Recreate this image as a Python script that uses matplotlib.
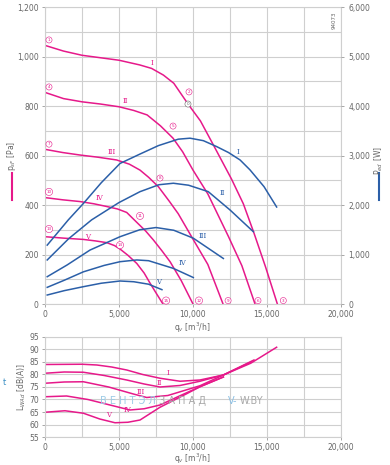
import matplotlib
matplotlib.use('Agg')
import matplotlib.pyplot as plt
from matplotlib.ticker import FuncFormatter, MultipleLocator

# pressure curves p_sF [Pa] vs q_v [m3/h]
q_p1 = [0, 1250, 2500, 3750, 5000, 6400, 7200, 8000, 8700, 9700, 10500, 11400, 12600, 13400, 14100, 14900, 15700]
p1 = [1045, 1022, 1005, 995, 985, 966, 952, 925, 892, 805, 740, 640, 505, 405, 290, 150, 0]
q_p2 = [0, 1250, 2500, 3750, 5000, 6000, 6900, 7800, 8650, 9300, 10000, 11000, 12400, 13300, 14190]
p2 = [855, 830, 817, 808, 797, 782, 764, 720, 670, 615, 541, 445, 272, 155, 0]
q_p3 = [0, 1200, 2365, 3600, 4840, 5700, 6420, 7000, 7660, 8400, 9000, 10000, 11000, 12030]
p3 = [625, 612, 602, 593, 582, 565, 541, 512, 474, 415, 365, 262, 160, 0]
q_p4 = [0, 1200, 2365, 3300, 4170, 4900, 5520, 6200, 6800, 7320, 7900, 8450, 9200, 10000]
p4 = [430, 421, 414, 405, 394, 384, 370, 330, 295, 259, 215, 171, 95, 0]
q_p5 = [0, 1300, 2590, 3400, 4170, 4700, 5070, 5600, 6200, 6700, 7100, 7500, 7970]
p5 = [272, 266, 261, 255, 248, 236, 222, 197, 164, 125, 84, 45, 0]

# power curves P_ed [W]
q_w1 = [150, 1575, 2590, 3800, 5070, 6420, 7660, 9000, 9800, 10700, 11600, 12400, 13180, 13850, 14800, 15650]
w1 = [1190, 1700, 2030, 2450, 2840, 3030, 3200, 3330, 3350, 3300, 3180, 3060, 2910, 2710, 2370, 1960]
q_w2 = [150, 1600, 3150, 5000, 6420, 7700, 8670, 9700, 11030, 12500, 14080]
w2 = [890, 1320, 1700, 2050, 2270, 2410, 2440, 2400, 2270, 1900, 1460]
q_w3 = [150, 1500, 3040, 5070, 6400, 7500, 8700, 10020, 12050]
w3 = [552, 790, 1090, 1360, 1500, 1545, 1490, 1330, 920]
q_w4 = [150, 1300, 2590, 4000, 5070, 6200, 7000, 8670, 10020]
w4 = [337, 480, 650, 780, 855, 890, 875, 720, 535]
q_w5 = [150, 1300, 2590, 3800, 5070, 6000, 7000, 7900]
w5 = [182, 270, 350, 420, 465, 450, 400, 290]

# sound power L_WAd [dB(A)]
q_s1 = [0, 2500, 3500, 4500, 5520, 6600, 7770, 9120, 10470, 12050, 13900, 15650]
s1 = [84, 84.1, 83.8, 83.0, 81.8, 80.0, 78.5, 77.3, 77.8, 79.8, 84.5, 90.9]
q_s2 = [0, 1300, 2590, 4000, 5520, 6700, 7770, 9120, 10470, 12050, 14120]
s2 = [80.5, 81.0, 80.9, 79.6, 77.8, 76.2, 75.0, 75.6, 77.3, 79.8, 85.8]
q_s3 = [0, 1300, 2590, 4300, 5970, 6870, 8300, 10470, 12050, 13960]
s3 = [76.5, 77.0, 77.1, 75.0, 72.2, 70.8, 71.6, 75.5, 79.8, 85.1]
q_s4 = [0, 1460, 2900, 4390, 5740, 6700, 7770, 9120, 10470, 12050]
s4 = [71.1, 71.4, 70.0, 67.8, 65.8, 66.3, 67.8, 71.5, 75.1, 79.0]
q_s5 = [0, 1350, 2600, 3700, 4730, 5600, 6420, 7770, 9570, 10470, 12050]
s5 = [64.9, 65.5, 64.5, 62.2, 60.7, 60.9, 61.8, 66.9, 72.3, 75.1, 79.0]

roman = ['I', 'II', 'III', 'IV', 'V']
# roman label positions
lab_p = [(7230, 974), (5400, 820), (4530, 614), (3650, 428), (2900, 270)]
lab_w = [(13040, 3070), (11960, 2240), (10680, 1370), (9320, 830), (7700, 444)]
lab_s = [(8300, 80.5), (7750, 76.5), (6500, 73.0), (5550, 66.0), (4300, 64.0)]

# numbered operating points
pt_num = ['1', '2', '3', '4', '5', '6', '7', '8', '9', '10', '11', '12', '13', '14', '15']
pt_q = [270, 9730, 16100, 270, 8650, 14390, 270, 7770, 12370, 270, 6420, 10400, 270, 5070, 8180]
pt_p = [1067, 857, 14, 877, 719, 14, 646, 509, 14, 453, 356, 14, 303, 238, 14]

MAG = '#e6198a'
BLUE = '#2b5fa8'
GRID = '#cfcfcf'
TXT = '#666666'

thousands = FuncFormatter(lambda v, p: '{:,.0f}'.format(v))

fig = plt.figure(figsize=(3.9, 4.65), dpi=100)

ax = fig.add_axes([0.1154, 0.3462, 0.7590, 0.6387])
ax.set_xlim(0, 20000)
ax.set_ylim(0, 1200)
ax.xaxis.set_major_locator(MultipleLocator(5000))
ax.xaxis.set_minor_locator(MultipleLocator(2500))
ax.yaxis.set_major_locator(MultipleLocator(200))
ax.yaxis.set_minor_locator(MultipleLocator(100))
ax.xaxis.set_major_formatter(thousands)
ax.yaxis.set_major_formatter(thousands)
ax.grid(True, which='both', color=GRID, lw=0.8)
ax.set_axisbelow(True)
for s in ax.spines.values():
    s.set_color(GRID)
    s.set_linewidth(0.8)
ax.tick_params(which='major', labelsize=5.5, labelcolor=TXT, color='#999999', length=2.5, width=0.6, pad=2)
ax.tick_params(which='minor', length=0)

ax2 = ax.twinx()
ax2.set_ylim(0, 6000)
ax2.yaxis.set_major_locator(MultipleLocator(1000))
ax2.yaxis.set_major_formatter(thousands)
for s in ax2.spines.values():
    s.set_visible(False)
ax2.tick_params(labelsize=5.5, labelcolor=TXT, color='#999999', length=2.5, width=0.6, pad=3)

for qq, pp in [(q_p1, p1), (q_p2, p2), (q_p3, p3), (q_p4, p4), (q_p5, p5)]:
    ax.plot(qq, pp, color=MAG, lw=1.1)
for qq, ww in [(q_w1, w1), (q_w2, w2), (q_w3, w3), (q_w4, w4), (q_w5, w5)]:
    ax2.plot(qq, ww, color=BLUE, lw=1.1)

for r, (x, y) in zip(roman, lab_p):
    ax.text(x, y, r, color=MAG, fontsize=5, ha='center', va='center', fontfamily='DejaVu Serif')
for r, (x, y) in zip(roman, lab_w):
    ax2.text(x, y, r, color=BLUE, fontsize=5, ha='center', va='center', fontfamily='DejaVu Serif')

for n, x, y in zip(pt_num, pt_q, pt_p):
    ax.text(x, y, n, color=MAG, fontsize=3, ha='center', va='center',
            bbox=dict(boxstyle='circle,pad=0.25', fc='white', ec=MAG, lw=0.4))
ax.text(9660, 808, '0', color='#666666', fontsize=3, ha='center', va='center',
        bbox=dict(boxstyle='circle,pad=0.25', fc='white', ec='#666666', lw=0.4))

ax.text(0.985, 0.985, '94073', transform=ax.transAxes, rotation=90, fontsize=4,
        color=TXT, ha='right', va='top')

fig.text(0.493, 0.295, 'q$_v$ [m$^3$/h]', fontsize=5.5, color=TXT, ha='center', va='center')
fig.text(0.030, 0.665, 'p$_{sF}$ [Pa]', rotation=90, fontsize=5.5, color=TXT, ha='center', va='center')
fig.add_artist(plt.Line2D([0.0315, 0.0315], [0.570, 0.628], color=MAG, lw=1.5))
fig.text(0.970, 0.655, 'P$_{ed}$ [W]', rotation=90, fontsize=5.5, color=TXT, ha='center', va='center')
fig.add_artist(plt.Line2D([0.9715, 0.9715], [0.570, 0.628], color=BLUE, lw=1.5))

# sound chart
bx = fig.add_axes([0.1154, 0.0602, 0.7590, 0.2151])
bx.set_xlim(0, 20000)
bx.set_ylim(55, 95)
bx.xaxis.set_major_locator(MultipleLocator(5000))
bx.xaxis.set_minor_locator(MultipleLocator(2500))
bx.yaxis.set_major_locator(MultipleLocator(5))
bx.xaxis.set_major_formatter(thousands)
bx.grid(True, which='both', color=GRID, lw=0.8)
bx.set_axisbelow(True)
for s in bx.spines.values():
    s.set_color(GRID)
    s.set_linewidth(0.8)
bx.tick_params(which='major', labelsize=5.5, labelcolor=TXT, color='#999999', length=2.5, width=0.6, pad=1.5)
bx.tick_params(which='minor', length=0)

for qq, ss in [(q_s1, s1), (q_s2, s2), (q_s3, s3), (q_s4, s4), (q_s5, s5)]:
    bx.plot(qq, ss, color=MAG, lw=1.1)
for r, (x, y) in zip(roman, lab_s):
    bx.text(x, y, r, color=MAG, fontsize=5, ha='center', va='center', fontfamily='DejaVu Serif')

fig.text(0.493, 0.014, 'q$_v$ [m$^3$/h]', fontsize=5.5, color=TXT, ha='center', va='center')
fig.text(0.055, 0.168, 'L$_{WAd}$ [dB(A)]', rotation=90, fontsize=5.5, color=TXT, ha='center', va='center')
fig.text(0.012, 0.178, 't', fontsize=6, color='#3a8fc4', ha='center', va='center')

# watermark
fig.text(0.257, 0.138, 'В Е Н Т Э Л', fontsize=7, color='#9ccbe6', ha='left', va='center')
fig.text(0.408, 0.138, 'З А П А Д', fontsize=7, color='#a8a8a8', ha='left', va='center')
fig.text(0.585, 0.138, 'V-', fontsize=7, color='#8cc0e4', ha='left', va='center')
fig.text(0.614, 0.138, 'W.BY', fontsize=7, color='#a8a8a8', ha='left', va='center')

fig.savefig('out.png', dpi=100)
